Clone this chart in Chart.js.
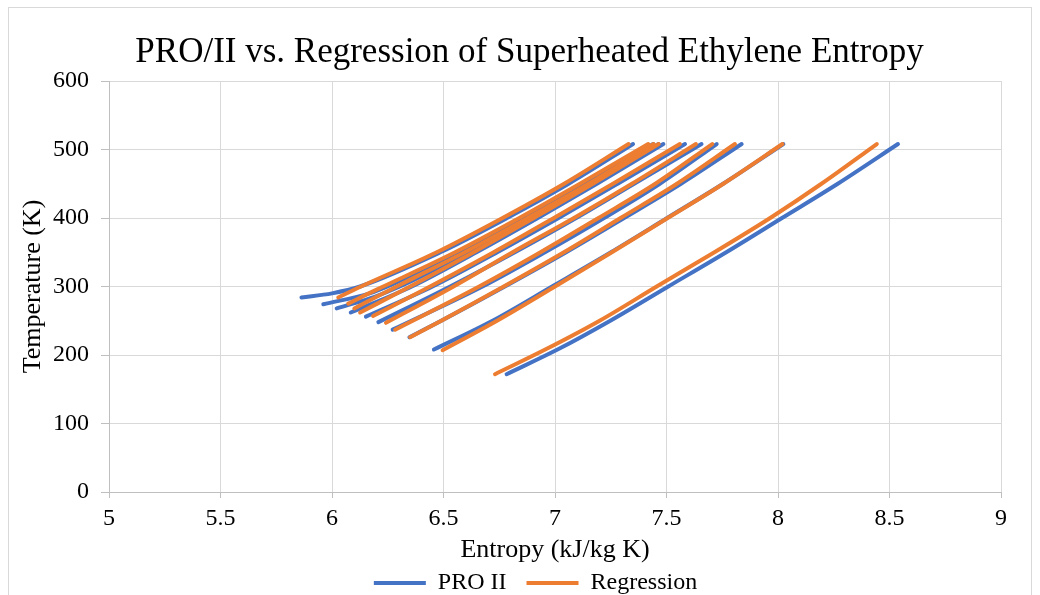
<!DOCTYPE html>
<html>
<head>
<meta charset="utf-8">
<script src="https://cdn.jsdelivr.net/npm/chart.js@4.4.1/dist/chart.umd.min.js"></script>
<style>
  html, body { margin: 0; padding: 0; background: #fff; }
  #wrap { position: relative; width: 1040px; height: 595px; overflow: hidden; }
  #frame { position: absolute; left: 8px; top: 7px; width: 1024px; height: 620px; border: 1px solid #d9d9d9; box-sizing: border-box; }
  #chart { position: absolute; left: 0; top: 0; }
</style>
</head>
<body>
<div id="wrap"><div id="frame"></div><canvas id="chart" width="1040" height="595"></canvas></div>
<script>
const seriesNames = ['PRO II', 'Regression'];
const seriesColors = ['#4472C4', '#ED7D31'];

// PRO II isobars: temperature (K) and entropy (kJ/kg K), lowest curve first
const proTemp = [
  [172, 209, 250, 300, 350, 400, 450, 508],
  [208, 250, 300, 350, 400, 450, 508],
  [226, 250, 300, 350, 400, 450, 508],
  [237, 300, 350, 400, 450, 508],
  [248, 300, 350, 400, 450, 508],
  [256, 300, 350, 400, 450, 508],
  [262, 300, 350, 400, 450, 508],
  [268, 285, 300, 350, 400, 450, 508],
  [274, 290, 300, 350, 400, 450, 508],
  [284, 290, 300, 350, 400, 450, 508]
];
const proEntropy = [
  [6.783, 7.018, 7.248, 7.508, 7.768, 8.018, 8.268, 8.538],
  [6.457, 6.720, 6.987, 7.251, 7.503, 7.754, 8.024],
  [6.347, 6.490, 6.775, 7.050, 7.310, 7.565, 7.837],
  [6.272, 6.675, 6.955, 7.220, 7.470, 7.725],
  [6.208, 6.530, 6.820, 7.095, 7.355, 7.657],
  [6.152, 6.451, 6.741, 7.016, 7.281, 7.583],
  [6.084, 6.358, 6.648, 6.923, 7.188, 7.486],
  [6.021, 6.191, 6.304, 6.614, 6.899, 7.169, 7.464],
  [5.961, 6.169, 6.249, 6.569, 6.859, 7.129, 7.440],
  [5.863, 6.000, 6.126, 6.486, 6.785, 7.061, 7.350]
];

// Regression curves, same order
const regTemp = [
  [172, 209, 250, 300, 350, 400, 450, 508],
  [207, 250, 300, 350, 400, 450, 508],
  [226, 250, 300, 350, 400, 450, 508],
  [237, 300, 350, 400, 450, 508],
  [247, 300, 350, 400, 450, 508],
  [257, 300, 350, 400, 450, 508],
  [262, 300, 350, 400, 450, 508],
  [268, 285, 300, 350, 400, 450, 508],
  [275, 290, 300, 350, 400, 450, 508],
  [284, 300, 350, 400, 450, 508]
];
const regEntropy = [
  [6.731, 6.963, 7.200, 7.456, 7.715, 7.965, 8.195, 8.443],
  [6.496, 6.740, 7.000, 7.255, 7.505, 7.755, 8.020],
  [6.350, 6.490, 6.770, 7.040, 7.294, 7.547, 7.807],
  [6.283, 6.660, 6.935, 7.195, 7.450, 7.705],
  [6.242, 6.545, 6.810, 7.085, 7.345, 7.632],
  [6.184, 6.440, 6.725, 6.995, 7.260, 7.560],
  [6.126, 6.350, 6.635, 6.905, 7.170, 7.465],
  [6.100, 6.200, 6.290, 6.595, 6.878, 7.150, 7.442],
  [6.073, 6.165, 6.230, 6.552, 6.840, 7.112, 7.418],
  [6.028, 6.130, 6.470, 6.765, 7.041, 7.330]
];

const serif = "'Liberation Serif', 'Times New Roman', serif";
Chart.defaults.color = '#000';
Chart.defaults.font.family = serif;

function makeSets(temps, entropies, label, color, order) {
  return temps.map((tList, i) => ({
    label: label,
    data: tList.map((t, j) => ({ x: entropies[i][j], y: t })),
    borderColor: color,
    backgroundColor: color,
    borderWidth: 4,
    borderCapStyle: 'round',
    pointRadius: 0,
    pointHoverRadius: 0,
    showLine: true,
    cubicInterpolationMode: 'monotone',
    order: order
  }));
}

const proSets = makeSets(proTemp, proEntropy, seriesNames[0], seriesColors[0], 1);
const regSets = makeSets(regTemp, regEntropy, seriesNames[1], seriesColors[1], 0);
const firstReg = proSets.length;

// nudge title and legend to sit where Excel puts them
const shiftBlocks = {
  id: 'shiftBlocks',
  afterLayout(chart) {
    chart.titleBlock.left += 20;
    chart.titleBlock.right += 20;
    chart.legend.left += 26;
    chart.legend.right += 26;
  }
};

new Chart(document.getElementById('chart'), {
  type: 'scatter',
  data: { datasets: proSets.concat(regSets) },
  plugins: [shiftBlocks],
  options: {
    responsive: false,
    animation: false,
    layout: { padding: { left: 18, right: 39, top: 10, bottom: -10 } },
    scales: {
      x: {
        type: 'linear',
        min: 5,
        max: 9,
        ticks: { stepSize: 0.5, padding: 6, font: { size: 24 }, callback: (v) => String(v) },
        grid: { color: '#d9d9d9', tickColor: '#bfbfbf', tickLength: 6 },
        border: { color: '#bfbfbf' },
        title: { display: true, text: 'Entropy (kJ/kg K)', font: { size: 26 }, padding: { top: 0, bottom: -15 } },
        afterFit(scale) { scale.height = 59; }
      },
      y: {
        min: 0,
        max: 600,
        ticks: { stepSize: 100, padding: 12, font: { size: 24 } },
        grid: { color: '#d9d9d9', tickColor: '#bfbfbf', tickLength: 8 },
        border: { color: '#bfbfbf' },
        title: { display: true, text: 'Temperature (K)', font: { size: 26 }, padding: { top: 0, bottom: 0 } },
        afterFit(scale) { scale.width = 91; }
      }
    },
    plugins: {
      title: {
        display: true,
        text: 'PRO/II vs. Regression of Superheated Ethylene Entropy',
        font: { size: 35, weight: 'normal' },
        padding: { top: 22, bottom: 7 }
      },
      legend: {
        position: 'bottom',
        labels: {
          usePointStyle: true,
          pointStyle: 'line',
          pointStyleWidth: 52,
          padding: 20,
          font: { size: 24 },
          filter: (item) => item.datasetIndex === 0 || item.datasetIndex === firstReg,
          sort: (a, b) => a.datasetIndex - b.datasetIndex
        }
      },
      tooltip: { enabled: false }
    }
  }
});
</script>
</body>
</html>
